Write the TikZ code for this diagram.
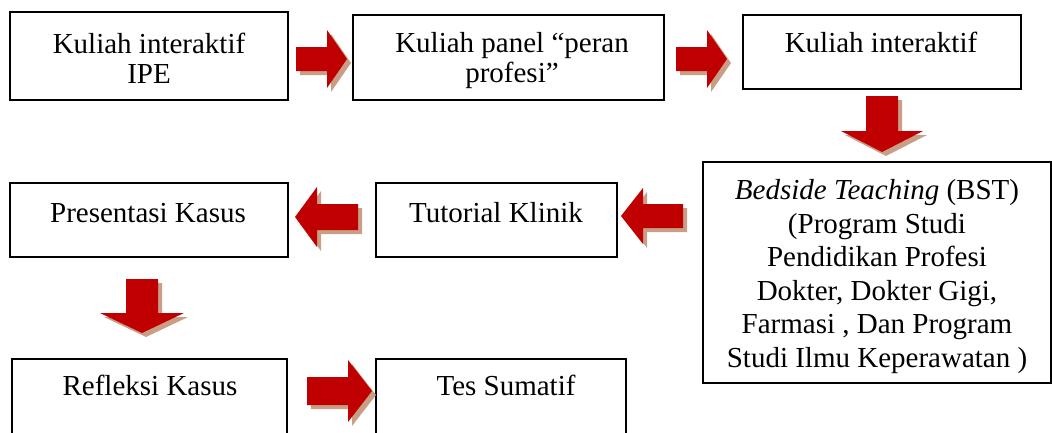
\documentclass[tikz,border=0pt]{standalone}
\usepackage{fontspec}
\setmainfont{Liberation Serif}
\definecolor{arrowred}{RGB}{192,0,0}
\definecolor{shadowc}{RGB}{200,158,135}
\newcommand\arrowH[6]{% x0 x1 x2 cy h H (horizontal block arrow)
  \foreach \dx/\dy/\c in {4/4/shadowc,0/0/arrowred}{%
    \fill[\c,shift={(\dx,\dy)}] (#1,{#4-#5}) -- (#2,{#4-#5}) -- (#2,{#4-#6}) -- (#3,#4)
      -- (#2,{#4+#6}) -- (#2,{#4+#5}) -- (#1,{#4+#5}) -- cycle;}}
\newcommand\arrowV[6]{% y0 y1 y2 cx h H (vertical block arrow)
  \foreach \dx/\dy/\c in {4/4/shadowc,0/0/arrowred}{%
    \fill[\c,shift={(\dx,\dy)}] ({#4-#5},#1) -- ({#4-#5},#2) -- ({#4-#6},#2) -- (#4,#3)
      -- ({#4+#6},#2) -- ({#4+#5},#2) -- ({#4+#5},#1) -- cycle;}}
\begin{document}
\begin{tikzpicture}[x=1pt,y=-1pt,
  box/.style={draw=black,line width=1.5pt,fill=white,inner sep=0pt},
  txt/.style={align=center,inner sep=0pt,anchor=base,font=\fontsize{29}{30}\selectfont}]
\useasboundingbox (0,0) rectangle (1052,432);
\clip (0,0) rectangle (1052,432);
% boxes
\node[box,minimum width=278pt,minimum height=88pt] (b1) at (149,56) {};
\node[box,minimum width=311pt,minimum height=85pt] (b2) at (508.5,57.5) {};
\node[box,minimum width=278pt,minimum height=74pt] (b3) at (882,52) {};
\node[box,minimum width=348pt,minimum height=221pt] (b4) at (877,272.5) {};
\node[box,minimum width=241pt,minimum height=74pt] (b5) at (496.5,220) {};
\node[box,minimum width=278pt,minimum height=74pt] (b6) at (149,220) {};
\node[box,minimum width=275pt,minimum height=90pt] (b7) at (149.5,404) {};
\node[box,minimum width=250pt,minimum height=90pt] (b8) at (501,404) {};
% texts (anchor base = baseline of the last line)
\node[txt] (t1) at (149,83) {Kuliah interaktif\\IPE};
\node[txt] (t2) at (512,82) {Kuliah panel “peran\\profesi”};
\node[txt] (t3) at (881,52) {Kuliah interaktif};
\node[txt,font=\fontsize{29}{33.5}\selectfont] (t4) at (877,367) {\textit{Bedside Teaching} (BST)\\(Program Studi\\Pendidikan Profesi\\Dokter, Dokter Gigi,\\Farmasi , Dan Program\\Studi Ilmu Keperawatan )};
\node[txt] (t5) at (496,222) {Tutorial Klinik};
\node[txt] (t6) at (148,222) {Presentasi Kasus};
\node[txt] (t7) at (150,395) {Refleksi Kasus};
\node[txt] (t8) at (506,395) {Tes Sumatif};
% block arrows
\arrowH{296}{327}{347}{59}{12}{29}
\arrowH{676}{707}{727}{59}{12}{29}
\arrowV{96}{131}{152}{882}{16}{41}
\arrowH{683}{643}{621}{216}{12}{28}
\arrowH{358}{317}{295}{217}{13}{30}
\arrowV{279}{313}{333}{142}{16}{42}
\arrowH{307}{348}{372}{391}{14}{31}
\end{tikzpicture}
\end{document}
